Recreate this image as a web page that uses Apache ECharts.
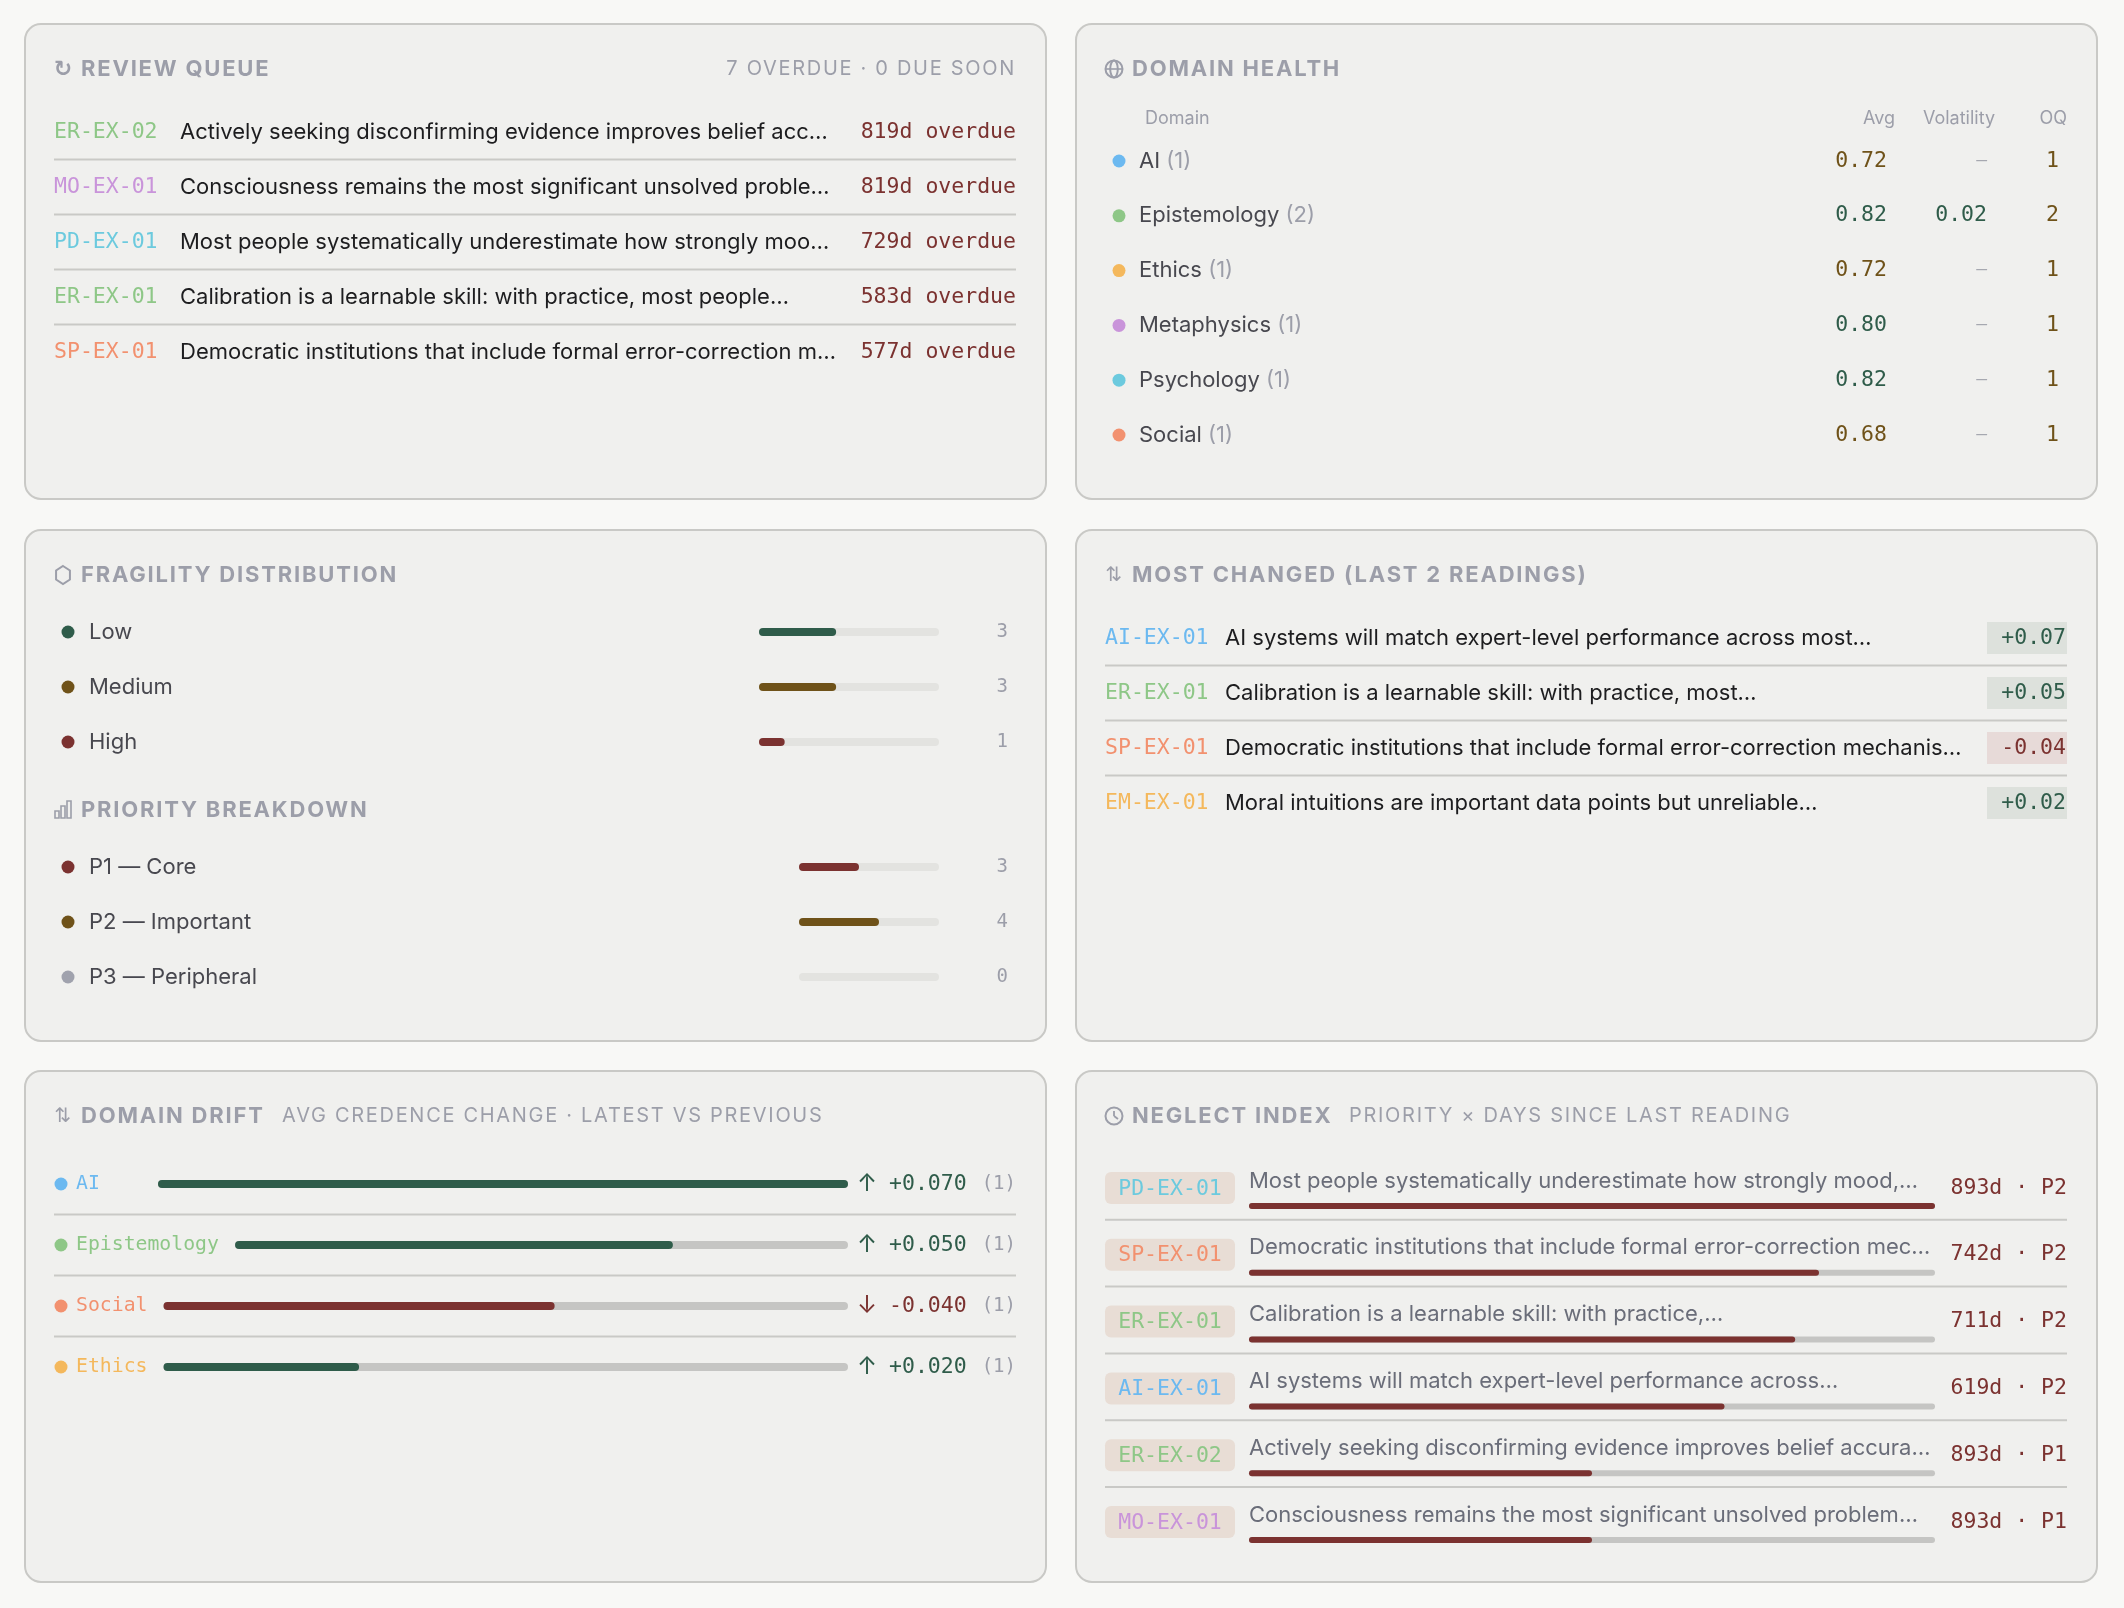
<!DOCTYPE html>
<html><head><meta charset="utf-8">
<script src="https://cdn.jsdelivr.net/npm/echarts@6/dist/echarts.min.js"></script>
<style>html,body{margin:0;padding:0;background:#f8f8f6}#c{width:2124px;height:1608px}</style>
</head><body><div id="c"></div>
<script>
// ---------------- DATA ----------------
const overdueCount = 7;
const dueSoonCount = 0;
const reviewIds = ['ER-EX-02', 'MO-EX-01', 'PD-EX-01', 'ER-EX-01', 'SP-EX-01'];
const reviewTexts = [
  'Actively seeking disconfirming evidence improves belief acc…',
  'Consciousness remains the most significant unsolved proble…',
  'Most people systematically underestimate how strongly moo…',
  'Calibration is a learnable skill: with practice, most people…',
  'Democratic institutions that include formal error-correction m…'
];
const reviewOverdueDays = [819, 819, 729, 583, 577];

const healthDomains = ['AI', 'Epistemology', 'Ethics', 'Metaphysics', 'Psychology', 'Social'];
const healthCounts = [1, 2, 1, 1, 1, 1];
const healthAvg = [0.72, 0.82, 0.72, 0.80, 0.82, 0.68];
const healthVolatility = [null, 0.02, null, null, null, null];
const healthOQ = [1, 2, 1, 1, 1, 1];

const fragilityLevels = ['Low', 'Medium', 'High'];
const fragilityCounts = [3, 3, 1];
const priorityLevels = ['P1 — Core', 'P2 — Important', 'P3 — Peripheral'];
const priorityCounts = [3, 4, 0];

const changedIds = ['AI-EX-01', 'ER-EX-01', 'SP-EX-01', 'EM-EX-01'];
const changedTexts = [
  'AI systems will match expert-level performance across most…',
  'Calibration is a learnable skill: with practice, most…',
  'Democratic institutions that include formal error-correction mechanis…',
  'Moral intuitions are important data points but unreliable…'
];
const changedDeltas = [0.07, 0.05, -0.04, 0.02];

const driftDomains = ['AI', 'Epistemology', 'Social', 'Ethics'];
const driftValues = [0.070, 0.050, -0.040, 0.020];
const driftCounts = [1, 1, 1, 1];

const neglectIds = ['PD-EX-01', 'SP-EX-01', 'ER-EX-01', 'AI-EX-01', 'ER-EX-02', 'MO-EX-01'];
const neglectTexts = [
  'Most people systematically underestimate how strongly mood,…',
  'Democratic institutions that include formal error-correction mec…',
  'Calibration is a learnable skill: with practice,…',
  'AI systems will match expert-level performance across…',
  'Actively seeking disconfirming evidence improves belief accura…',
  'Consciousness remains the most significant unsolved problem…'
];
const neglectDays = [893, 742, 711, 619, 893, 893];
const neglectPriority = ['P2', 'P2', 'P2', 'P2', 'P1', 'P1'];
const neglectScores = [1786, 1484, 1422, 1238, 893, 893];

// ---------------- STYLE ----------------
const domainColor = {
  'AI': '#6cb9f0', 'Epistemology': '#8ec787', 'Ethics': '#f4b85c',
  'Metaphysics': '#c994da', 'Psychology': '#6ccade', 'Social': '#f2916f'
};
const prefixDomain = { AI: 'AI', ER: 'Epistemology', EM: 'Ethics', MO: 'Metaphysics', PD: 'Psychology', SP: 'Social' };
const idColor = id => domainColor[prefixDomain[id.split('-')[0]]];
const GREEN = '#2f5c4a', BROWN = '#6f5219', RED = '#7b3230';
const GRAY = '#9c9ea9', DARK = '#1d1d1f', MID = '#48484f', NEG_TXT = '#6a6d79';
const SEP = '#c9c9c6';
const fragilityColors = [GREEN, BROWN, RED];
const priorityColors = [RED, BROWN, '#a0a2ad'];

// letter-spacing support via family marker "zlsNN" (tenths of px); every other text forced to 0px
(function () {
  const P = CanvasRenderingContext2D.prototype;
  if (!('letterSpacing' in P)) return;
  const of = P.fillText;
  P.fillText = function (t, x, y, m) {
    const mm = /zls(\d+)/.exec(this.font);
    this.letterSpacing = mm ? (mm[1] / 10) + 'px' : '0px';
    const r = m === undefined ? of.call(this, t, x, y) : of.call(this, t, x, y, m);
    this.letterSpacing = '0px';
    return r;
  };
})();

const SANS = 'Inter, "Noto Sans", sans-serif';
const TITLE = 'Inter, zls18, sans-serif';
const SUBT = 'Inter, zls17, sans-serif';
const MONO = '"DejaVu Sans Mono", "Liberation Mono", monospace';

// ---------------- HELPERS ----------------
const G = [];
function rect(x, y, w, h, r, fill, stroke, lw) {
  G.push({ type: 'rect', silent: true, shape: { x, y, width: w, height: h, r }, style: { fill: fill, stroke: stroke || null, lineWidth: lw || 0 } });
}
function line(x1, y1, x2, y2, color, lw) {
  G.push({ type: 'line', silent: true, shape: { x1, y1, x2, y2 }, style: { stroke: color, lineWidth: lw } });
}
function text(x, y, t, o) {
  G.push({ type: 'text', silent: true, x, y, style: Object.assign({ text: t, align: 'left', verticalAlign: 'middle', fontFamily: SANS, fontSize: 22, fill: DARK }, o) });
}
function dot(cx, cy, r, color) {
  G.push({ type: 'circle', silent: true, shape: { cx, cy, r }, style: { fill: color } });
}
function icon(kind, cx, cy) {
  const st = { stroke: GRAY, lineWidth: 2, fill: null };
  if (kind === 'refresh') {
    text(cx, cy + 1, '↻', { align: 'center', fontFamily: '"DejaVu Sans", sans-serif', fontSize: 22, fontWeight: 'bold', fill: GRAY });
  } else if (kind === 'globe') {
    G.push({ type: 'circle', silent: true, shape: { cx, cy, r: 8.5 }, style: st });
    G.push({ type: 'ellipse', silent: true, shape: { cx, cy, rx: 3.8, ry: 8.5 }, style: st });
    line(cx - 8.5, cy, cx + 8.5, cy, GRAY, 1.6);
  } else if (kind === 'hex') {
    const pts = [];
    for (let k = 0; k < 6; k++) { const a = -Math.PI / 2 + k * Math.PI / 3; pts.push([cx + 8 * Math.cos(a), cy + 9 * Math.sin(a)]); }
    G.push({ type: 'polygon', silent: true, shape: { points: pts }, style: st });
  } else if (kind === 'bars') {
    G.push({ type: 'rect', silent: true, shape: { x: cx - 8, y: cy + 1, width: 4, height: 7 }, style: { stroke: GRAY, lineWidth: 1.6, fill: null } });
    G.push({ type: 'rect', silent: true, shape: { x: cx - 2, y: cy - 4, width: 4, height: 12 }, style: { stroke: GRAY, lineWidth: 1.6, fill: null } });
    G.push({ type: 'rect', silent: true, shape: { x: cx + 4, y: cy - 9, width: 4, height: 17 }, style: { stroke: GRAY, lineWidth: 1.6, fill: null } });
  } else if (kind === 'updown') {
    text(cx, cy + 1, '⇅', { align: 'center', fontFamily: '"DejaVu Sans", sans-serif', fontSize: 20, fill: GRAY });
  } else if (kind === 'clock') {
    G.push({ type: 'circle', silent: true, shape: { cx, cy, r: 8.5 }, style: st });
    line(cx, cy - 5, cx, cy, GRAY, 1.8);
    line(cx, cy, cx + 4, cy + 3, GRAY, 1.8);
  }
}
function panel(p, kind, label) {
  rect(p.x, p.y, p.w, p.h, 16, '#f0f0ee', SEP, 2);
  const y = p.y + 45;
  icon(kind, p.x + 38, y);
  text(p.x + 56, y, label, { fontFamily: TITLE, fontWeight: 'bold', fontSize: 22, fill: GRAY });
  return y;
}

// bar groups
const grids = [], xAxes = [], yAxes = [], series = [];
function barGroup(left, top, width, rowH, cats, values, max, colors, barW, track, radius) {
  const i = grids.length;
  grids.push({ left: left, top: top, width: width, height: rowH * cats.length, containLabel: false });
  xAxes.push({ type: 'value', gridIndex: i, min: 0, max: max, show: false });
  yAxes.push({ type: 'category', gridIndex: i, data: cats, inverse: true, show: false });
  series.push({
    type: 'bar', xAxisIndex: i, yAxisIndex: i, barWidth: barW, silent: true,
    showBackground: true, backgroundStyle: { color: track, borderRadius: radius },
    itemStyle: { borderRadius: radius },
    data: values.map((v, k) => ({ value: v, itemStyle: { color: colors[k] } }))
  });
}

// ---------------- LAYOUT ----------------
const L = 25, R = 1076, PW = 1021;
const P1 = { x: L, y: 24, w: PW, h: 475 }, P2 = { x: R, y: 24, w: PW, h: 475 };
const P3 = { x: L, y: 530, w: PW, h: 511 }, P4 = { x: R, y: 530, w: PW, h: 511 };
const P5 = { x: L, y: 1071, w: PW, h: 511 }, P6 = { x: R, y: 1071, w: PW, h: 511 };

// Panel 1: Review queue
{
  const ty = panel(P1, 'refresh', 'REVIEW QUEUE');
  text(P1.x + P1.w - 30, ty, overdueCount + ' OVERDUE · ' + dueSoonCount + ' DUE SOON', { align: 'right', fontFamily: SUBT, fontSize: 20, fill: GRAY });
  const x0 = P1.x + 29, x1 = P1.x + P1.w - 30;
  reviewIds.forEach((id, i) => {
    const y = 132 + i * 55;
    if (i > 0) line(x0, y - 27.5, x1, y - 27.5, SEP, 2);
    text(x0, y, id, { fontFamily: MONO, fontSize: 21.5, fill: idColor(id) });
    text(x0 + 126, y, reviewTexts[i], { fontSize: 22, fill: DARK });
    text(x1, y, reviewOverdueDays[i] + 'd overdue', { align: 'right', fontFamily: MONO, fontSize: 21.5, fill: RED });
  });
}

// Panel 2: Domain health
{
  panel(P2, 'globe', 'DOMAIN HEALTH');
  const hy = 119;
  text(1145, hy, 'Domain', { fontSize: 18, fill: GRAY });
  text(1895, hy, 'Avg', { fontSize: 18, fill: GRAY, align: 'right' });
  text(1995, hy, 'Volatility', { fontSize: 18, fill: GRAY, align: 'right' });
  text(2067, hy, 'OQ', { fontSize: 18, fill: GRAY, align: 'right' });
  healthDomains.forEach((d, i) => {
    const y = 161 + i * 54.8;
    dot(1119, y, 6.5, domainColor[d]);
    G.push({ type: 'text', silent: true, x: 1139, y: y, style: {
      text: '{n|' + d + '} {c|(' + healthCounts[i] + ')}', verticalAlign: 'middle', align: 'left',
      fontFamily: SANS, fontSize: 22,
      rich: { n: { fontFamily: SANS, fontSize: 22, fill: MID }, c: { fontFamily: SANS, fontSize: 22, fill: GRAY } }
    } });
    const av = healthAvg[i];
    text(1887, y, av.toFixed(2), { align: 'right', fontFamily: MONO, fontSize: 21.5, fill: av >= 0.8 ? GREEN : BROWN });
    const vol = healthVolatility[i];
    text(1987, y, vol == null ? '—' : vol.toFixed(2), { align: 'right', fontFamily: MONO, fontSize: vol == null ? 18 : 21.5, fill: vol == null ? '#a6a8b0' : GREEN });
    text(2059, y, String(healthOQ[i]), { align: 'right', fontFamily: MONO, fontSize: 21.5, fill: BROWN });
  });
}

// Panel 3: Fragility + priority
{
  panel(P3, 'hex', 'FRAGILITY DISTRIBUTION');
  const fragTotal = fragilityCounts.reduce((a, b) => a + b, 0);
  fragilityLevels.forEach((lv, i) => {
    const y = 632 + i * 55;
    dot(68, y, 6.5, fragilityColors[i]);
    text(89, y, lv, { fontSize: 22, fill: MID });
    text(1008, y, String(fragilityCounts[i]), { align: 'right', fontFamily: MONO, fontSize: 19, fill: GRAY });
  });
  barGroup(759, 632 - 27.5, 180, 55, fragilityLevels, fragilityCounts, fragTotal, fragilityColors, 8, '#e3e3e0', 4);

  const py = 810;
  icon('bars', P3.x + 38, py);
  text(P3.x + 56, py, 'PRIORITY BREAKDOWN', { fontFamily: TITLE, fontWeight: 'bold', fontSize: 22, fill: GRAY });
  const prTotal = priorityCounts.reduce((a, b) => a + b, 0);
  priorityLevels.forEach((lv, i) => {
    const y = 867 + i * 55;
    dot(68, y, 6.5, priorityColors[i]);
    text(89, y, lv, { fontSize: 22, fill: MID });
    text(1008, y, String(priorityCounts[i]), { align: 'right', fontFamily: MONO, fontSize: 19, fill: GRAY });
  });
  barGroup(799, 867 - 27.5, 140, 55, priorityLevels, priorityCounts, prTotal, priorityColors, 8, '#e3e3e0', 4);
}

// Panel 4: Most changed
{
  panel(P4, 'updown', 'MOST CHANGED (LAST 2 READINGS)');
  const x0 = P4.x + 29, x1 = P4.x + P4.w - 30;
  changedIds.forEach((id, i) => {
    const y = 638 + i * 55;
    if (i > 0) line(x0, y - 27.5, x1, y - 27.5, SEP, 2);
    text(x0, y, id, { fontFamily: MONO, fontSize: 21.5, fill: idColor(id) });
    text(x0 + 120, y, changedTexts[i], { fontSize: 22, fill: DARK });
    const d = changedDeltas[i];
    rect(x1 - 80, y - 16, 80, 32, 0, d >= 0 ? '#dde1dc' : '#e7dad8');
    text(x1 - 1, y, (d >= 0 ? '+' : '') + d.toFixed(2), { align: 'right', fontFamily: MONO, fontSize: 21.5, fill: d >= 0 ? GREEN : RED });
  });
}

// Panel 5: Domain drift
{
  const ty = panel(P5, 'updown', 'DOMAIN DRIFT');
  text(P5.x + 257, ty, 'AVG CREDENCE CHANGE · LATEST VS PREVIOUS', { fontFamily: SUBT, fontSize: 20, fill: GRAY });
  const x0 = P5.x + 29, x1 = P5.x + P5.w - 30;
  const maxAbs = Math.max.apply(null, driftValues.map(Math.abs));
  const charW = 19.8 * 0.602;
  driftDomains.forEach((d, i) => {
    const y = 1184 + i * 61;
    if (i > 0) line(x0, y - 30.5, x1, y - 30.5, SEP, 2);
    dot(61, y, 6.5, domainColor[d]);
    text(76, y, d, { fontFamily: MONO, fontSize: 19.8, fill: domainColor[d] });
    const barL = 76 + Math.max(d.length * charW, 66) + 16;
    const v = driftValues[i];
    const col = v >= 0 ? GREEN : RED;
    barGroup(barL, y - 30, 848 - barL, 60, [d], [Math.abs(v)], maxAbs, [col], 8, '#c5c5c3', 4);
    text(867, y, v >= 0 ? '↑' : '↓', { align: 'center', fontFamily: SANS, fontSize: 24, fill: col });
    text(889, y, (v >= 0 ? '+' : '') + v.toFixed(3), { fontFamily: MONO, fontSize: 21.5, fill: col });
    text(x1, y, '(' + driftCounts[i] + ')', { align: 'right', fontFamily: MONO, fontSize: 19, fill: GRAY });
  });
}

// Panel 6: Neglect index
{
  const ty = panel(P6, 'clock', 'NEGLECT INDEX');
  text(P6.x + 273, ty, 'PRIORITY × DAYS SINCE LAST READING', { fontFamily: SUBT, fontSize: 20, fill: GRAY });
  const x0 = P6.x + 29, x1 = P6.x + P6.w - 30;
  neglectIds.forEach((id, i) => {
    const y = 1188 + i * 66.8;
    if (i > 0) line(x0, y - 35, x1, y - 35, SEP, 2);
    rect(x0, y - 16, 130, 32, 6, '#e8ddd5');
    text(x0 + 65, y + 1, id, { align: 'center', fontFamily: MONO, fontSize: 21.5, fill: idColor(id) });
    text(1249, y - 7, neglectTexts[i], { fontSize: 22, fill: NEG_TXT });
    text(x1, y, neglectDays[i] + 'd · ' + neglectPriority[i], { align: 'right', fontFamily: MONO, fontSize: 21.5, fill: RED });
  });
  const maxScore = Math.max.apply(null, neglectScores);
  barGroup(1249, 1206 - 33.4, 686, 66.8, neglectIds, neglectScores, maxScore, neglectIds.map(() => RED), 6, '#c5c5c3', 3);
}

const chart = echarts.init(document.getElementById('c'), null, { renderer: 'canvas', width: 2124, height: 1608 });
chart.setOption({
  backgroundColor: '#f8f8f6',
  animation: false,
  grid: grids, xAxis: xAxes, yAxis: yAxes, series: series,
  graphic: { elements: G }
});
</script></body></html>
